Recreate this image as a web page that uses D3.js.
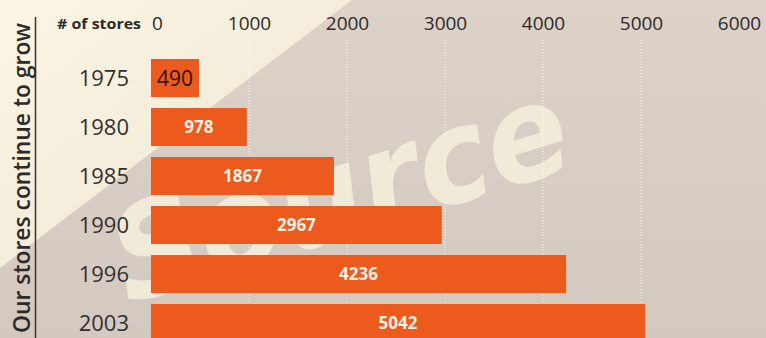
<!DOCTYPE html>
<html>
<head>
<meta charset="utf-8">
<script src="https://cdn.jsdelivr.net/npm/d3@7"></script>
<style>
  html, body { margin: 0; padding: 0; background: #d7ccc3; }
  svg { display: block; }
</style>
</head>
<body>
<script>
// chart data
const years = ["1975", "1980", "1985", "1990", "1996", "2003"];
const stores = [490, 978, 1867, 2967, 4236, 5042];
const xTicks = [0, 1000, 2000, 3000, 4000, 5000, 6000];
const gridTicks = [1000, 2000, 3000, 4000, 5000];
const title = "Our stores continue to grow";
const unitLabel = "# of stores";
const watermark = "Source";

const W = 766, H = 338;
const rows = years.map((y, i) => ({ year: y, value: stores[i] }));

var svg = d3.select("body").append("svg")
    .attr("width", W)
    .attr("height", H);

// background: grey paper with a lighter diagonal wedge top-left
var defs = svg.append("defs");
var grad = defs.append("linearGradient")
    .attr("id", "cream")
    .attr("x1", 0).attr("y1", 0).attr("x2", 1).attr("y2", 1);
grad.append("stop").attr("offset", "0%").attr("stop-color", "#fbf5e4");
grad.append("stop").attr("offset", "100%").attr("stop-color", "#efe5d1");

var grey = defs.append("linearGradient")
    .attr("id", "grey")
    .attr("x1", 0).attr("y1", 0).attr("x2", 0).attr("y2", 1);
grey.append("stop").attr("offset", "0%").attr("stop-color", "#ddd2c8");
grey.append("stop").attr("offset", "100%").attr("stop-color", "#d4c9c1");

svg.append("rect")
    .attr("width", W).attr("height", H)
    .attr("fill", "url(#grey)");

svg.append("path")
    .attr("d", "M0,0 L352,0 L0,268 Z")
    .attr("fill", "url(#cream)");

// faint watermark lettering behind the chart (kept inside the frame)
svg.append("text")
    .attr("x", 128)
    .attr("y", 304)
    .attr("transform", "rotate(-17,128,304)")
    .attr("textLength", 470)
    .attr("lengthAdjust", "spacingAndGlyphs")
    .style("font-family", "'DejaVu Sans'")
    .style("font-weight", 700)
    .style("font-style", "italic")
    .style("font-size", "130px")
    .style("fill", "#f5eedb")
    .style("opacity", 0.9)
    .text(watermark);

// scales
var x = d3.scaleLinear()
    .domain([0, 6000])
    .range([151, 739]);

var y = d3.scaleBand()
    .domain(years)
    .range([53.5, 53.5 + 49 * years.length])
    .paddingInner(11 / 49)
    .paddingOuter(5.5 / 49);

// dotted white gridlines
svg.append("g")
    .selectAll("line")
    .data(gridTicks)
    .enter()
    .append("line")
        .attr("x1", d => x(d))
        .attr("x2", d => x(d))
        .attr("y1", 40)
        .attr("y2", H)
        .style("stroke", "#ffffff")
        .style("stroke-width", 1)
        .style("stroke-dasharray", "1,2")
        .style("opacity", 0.85);

// top axis, labels only
var xAxis = svg.append("g")
    .attr("transform", "translate(0,30)")
    .call(d3.axisTop(x).tickValues(xTicks).tickSize(0).tickPadding(0).tickFormat(d3.format("d")));
xAxis.select(".domain").remove();
xAxis.selectAll("text")
    .attr("dx", d => d === 0 ? 6 : 0)
    .style("font-family", "'Open Sans'")
    .style("font-size", "19px")
    .style("fill", "#2e2a28");

// unit label
svg.append("text")
    .attr("x", 57)
    .attr("y", 29)
    .attr("textLength", 84)
    .attr("lengthAdjust", "spacingAndGlyphs")
    .style("font-family", "'Open Sans'")
    .style("font-weight", 700)
    .style("font-size", "15px")
    .style("fill", "#2e2a28")
    .text(unitLabel);

// year labels
svg.append("g")
    .selectAll("text")
    .data(rows)
    .enter()
    .append("text")
        .attr("x", 129)
        .attr("y", d => y(d.year) + y.bandwidth() / 2)
        .attr("dy", "0.36em")
        .attr("text-anchor", "end")
        .style("font-family", "'Open Sans'")
        .style("font-size", "22px")
        .style("fill", "#333030")
        .text(d => d.year);

// bars
svg.append("g")
    .selectAll("rect")
    .data(rows)
    .enter()
    .append("rect")
        .attr("x", x(0))
        .attr("y", d => y(d.year))
        .attr("width", d => x(d.value) - x(0))
        .attr("height", y.bandwidth())
        .style("fill", "#ec5a1d");

// value labels in the middle of each bar
svg.append("g")
    .selectAll("text")
    .data(rows)
    .enter()
    .append("text")
        .attr("x", d => (x(0) + x(d.value)) / 2)
        .attr("y", d => y(d.year) + y.bandwidth() / 2)
        .attr("dy", "0.36em")
        .attr("text-anchor", "middle")
        .style("font-family", "'Open Sans'")
        .style("font-weight", d => d.value < 500 ? 400 : 700)
        .style("font-size", d => d.value < 500 ? "21px" : "17px")
        .style("fill", d => d.value < 500 ? "#2a1308" : "#fdf0e4")
        .text(d => d.value);

// rotated title with its rule
svg.append("line")
    .attr("x1", 35.5).attr("x2", 35.5)
    .attr("y1", 17).attr("y2", H)
    .style("stroke", "#3a3533")
    .style("stroke-width", 1.5);

svg.append("text")
    .attr("transform", "translate(30,333) rotate(-90)")
    .attr("textLength", 310)
    .attr("lengthAdjust", "spacingAndGlyphs")
    .style("font-family", "'Open Sans'")
    .style("font-weight", 600)
    .style("font-size", "24px")
    .style("fill", "#2e2a28")
    .text(title);
</script>
</body>
</html>
